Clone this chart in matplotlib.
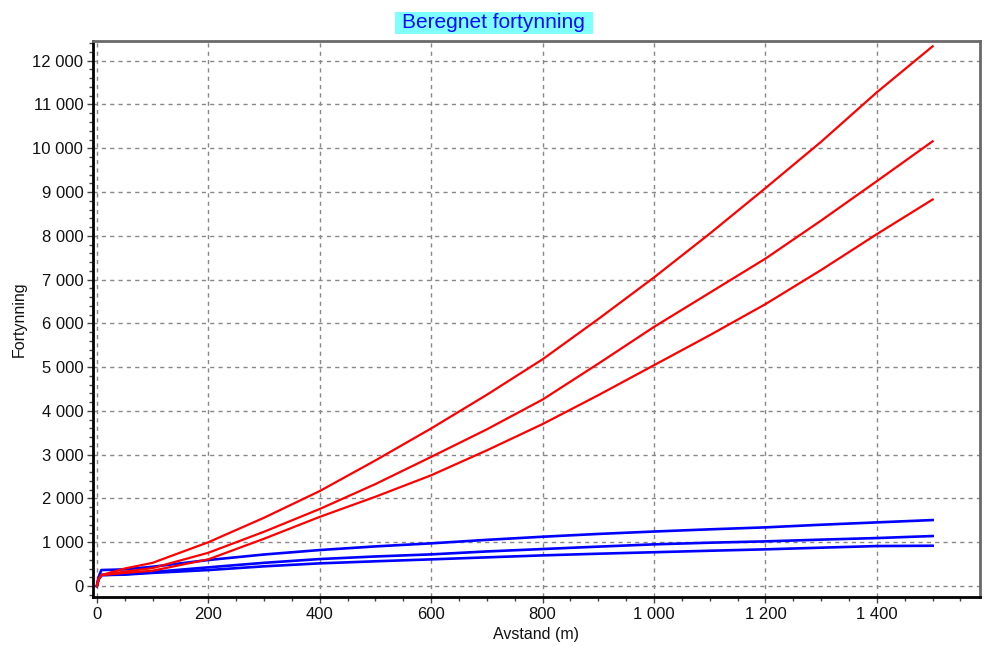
import numpy as np
import matplotlib
matplotlib.use('Agg')
import matplotlib.pyplot as plt
from matplotlib.patches import Rectangle
from matplotlib.ticker import MultipleLocator, FuncFormatter

# Avstand (m) og beregnet fortynning for hver kurve
avstand = [0, 3, 8, 50, 100, 200, 300, 400, 500, 600, 700, 800, 900,
           1000, 1100, 1200, 1300, 1400, 1500]

rod_1 = [0, 150, 250, 400, 530, 1000, 1560, 2170, 2870, 3600, 4370, 5180, 6100,
         7050, 8050, 9090, 10150, 11280, 12330]
rod_2 = [0, 150, 250, 330, 410, 760, 1240, 1760, 2330, 2950, 3580, 4260, 5080,
         5920, 6700, 7480, 8350, 9250, 10160]
rod_3 = [0, 150, 250, 300, 350, 610, 1080, 1580, 2040, 2530, 3100, 3700, 4360,
         5045, 5730, 6440, 7220, 8040, 8830]

bla_1 = [0, 200, 365, 380, 440, 594, 720, 822, 905, 975, 1055, 1126, 1190,
         1245, 1295, 1340, 1400, 1454, 1507]
bla_2 = [0, 150, 250, 270, 320, 427, 530, 616, 675, 723, 790, 845, 900,
         952, 990, 1020, 1060, 1096, 1142]
bla_3 = [0, 150, 250, 260, 300, 365, 450, 518, 565, 609, 655, 700, 738,
         772, 806, 838, 876, 913, 920]

tittel = 'Beregnet fortynning'
x_tekst = 'Avstand (m)'
y_tekst = 'Fortynning'

plt.rcParams['font.family'] = ['Liberation Sans', 'DejaVu Sans']


def tusen(v, pos):
    return f"{v:,.0f}".replace(",", " ")


fig = plt.figure(figsize=(9.87, 6.46), dpi=100)
ax = fig.add_axes([0.0942, 0.0759, 0.8987, 0.8606])

for y in (bla_1, bla_2, bla_3):
    ax.plot(avstand, y, color='#0000ff', linewidth=1.9, zorder=3)
for y in (rod_1, rod_2, rod_3):
    ax.plot(avstand, y, color='#ff0000', linewidth=1.6, zorder=4)

ax.set_xlim(-7, 1585)
ax.set_ylim(-250, 12450)

ax.xaxis.set_major_locator(MultipleLocator(200))
ax.xaxis.set_minor_locator(MultipleLocator(50))
ax.yaxis.set_major_locator(MultipleLocator(1000))
ax.yaxis.set_minor_locator(MultipleLocator(200))
ax.xaxis.set_major_formatter(FuncFormatter(tusen))
ax.yaxis.set_major_formatter(FuncFormatter(tusen))

ax.tick_params(which='both', direction='out', length=4, width=1, color='#444444',
               labelsize=12, labelcolor='#111111', pad=3)
ax.tick_params(axis='both', which='minor', length=3)

ax.grid(True, which='major', color='#888888', linestyle=(0, (3, 3)), linewidth=1)
ax.set_axisbelow(True)

for side in ('left', 'bottom'):
    ax.spines[side].set_color('#000000')
    ax.spines[side].set_linewidth(2)
for side in ('top', 'right'):
    ax.spines[side].set_color('#6a6a6a')
    ax.spines[side].set_linewidth(2)

ax.set_xlabel(x_tekst, fontsize=11.5, color='#111111', labelpad=4)
ax.set_ylabel(y_tekst, fontsize=11.5, color='#111111', labelpad=4)

# cyan felt bak tittelen
fig.add_artist(Rectangle((395 / 987, 1 - 34 / 646), 198 / 987, 22 / 646,
                         transform=fig.transFigure, facecolor='#80ffff',
                         edgecolor='none', zorder=1))
fig.text(0.4995, 1 - 23 / 646, tittel, ha='center', va='center', fontsize=15,
         color='#0a0aff', zorder=2)

fig.savefig('out.png', dpi=100, facecolor='white')
